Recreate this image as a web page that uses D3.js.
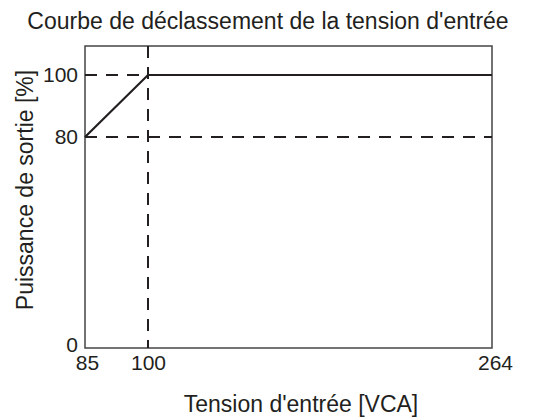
<!DOCTYPE html>
<html>
<head>
<meta charset="utf-8">
<script src="https://cdn.jsdelivr.net/npm/d3@7"></script>
<style>
  body { margin: 0; background: #fff; }
  svg { display: block; }
  text { fill: #231f20; font-family: "Liberation Sans", Arial, sans-serif; }
</style>
</head>
<body>
<svg id="chart" width="541" height="419"></svg>
<script>
// derating curve data
const voltage = [85, 100, 264];
const power = [80, 100, 100];
const xTicks = [85, 100, 264];
const yTicks = [0, 80, 100];
const kneeV = 100;
const minP = 80;
const maxP = 100;

const title = "Courbe de déclassement de la tension d'entrée";
const xTitle = "Tension d'entrée [VCA]";
const yTitle = "Puissance de sortie [%]";

const chartDerating = () => {
    const svg = d3.select('#chart');
    const left = 85, right = 492, top = 46, bottom = 348;

    // schematic (non-linear) axes, so piecewise scales
    const x = d3.scaleLinear()
        .domain([85, 100, 264])
        .range([left, 148, right]);
    const y = d3.scaleLinear()
        .domain([0, 80, 100, 109.4])
        .range([bottom, 137, 75, top]);

    // title
    svg.append("text")
        .attr("x", 268)
        .attr("y", 29)
        .attr("text-anchor", "middle")
        .style("font-size", "23px")
        .text(title);

    // frame
    svg.append("rect")
        .attr("x", left)
        .attr("y", top)
        .attr("width", right - left)
        .attr("height", bottom - top)
        .attr("fill", "none")
        .attr("stroke", "#444")
        .attr("stroke-width", 1.5);

    // dashed guides
    const dash = "12,9";
    svg.append("line")
        .attr("x1", x(kneeV)).attr("x2", x(kneeV))
        .attr("y1", top).attr("y2", bottom)
        .attr("stroke", "#231f20").attr("stroke-width", 2)
        .attr("stroke-dasharray", dash);
    svg.append("line")
        .attr("x1", left).attr("x2", x(kneeV))
        .attr("y1", y(maxP)).attr("y2", y(maxP))
        .attr("stroke", "#231f20").attr("stroke-width", 2)
        .attr("stroke-dasharray", dash);
    svg.append("line")
        .attr("x1", left).attr("x2", right)
        .attr("y1", y(minP)).attr("y2", y(minP))
        .attr("stroke", "#231f20").attr("stroke-width", 2)
        .attr("stroke-dasharray", dash);

    // curve
    const line = d3.line()
        .x((d, i) => x(voltage[i]))
        .y(d => y(d));
    svg.append("path")
        .datum(power)
        .attr("d", line)
        .attr("fill", "none")
        .attr("stroke", "#231f20")
        .attr("stroke-width", 2.2);

    // axes
    const xAxis = svg.append("g")
        .attr("transform", `translate(0,${bottom})`)
        .call(d3.axisBottom(x).tickValues(xTicks).tickSize(0).tickPadding(7).tickFormat(d3.format("d")));
    xAxis.select(".domain").remove();
    xAxis.selectAll("text")
        .style("font-size", "21px")
        .style("font-family", "'Liberation Sans', Arial, sans-serif")
        .attr("fill", "#231f20")
        .attr("dx", (d, i) => [2, 0, 3][i]);

    const yAxis = svg.append("g")
        .attr("transform", `translate(${left},0)`)
        .call(d3.axisLeft(y).tickValues(yTicks).tickSize(0).tickPadding(7).tickFormat(d3.format("d")));
    yAxis.select(".domain").remove();
    yAxis.selectAll("text")
        .style("font-size", "21px")
        .style("font-family", "'Liberation Sans', Arial, sans-serif")
        .attr("fill", "#231f20")
        .attr("dy", (d, i) => i === 0 ? "0.15em" : "0.32em");

    // axis titles
    svg.append("text")
        .attr("x", 301)
        .attr("y", 412)
        .attr("text-anchor", "middle")
        .style("font-size", "23px")
        .text(xTitle);

    svg.append("text")
        .attr("transform", "translate(33,190) rotate(-90)")
        .attr("text-anchor", "middle")
        .style("font-size", "23px")
        .text(yTitle);
};

chartDerating();
</script>
</body>
</html>
